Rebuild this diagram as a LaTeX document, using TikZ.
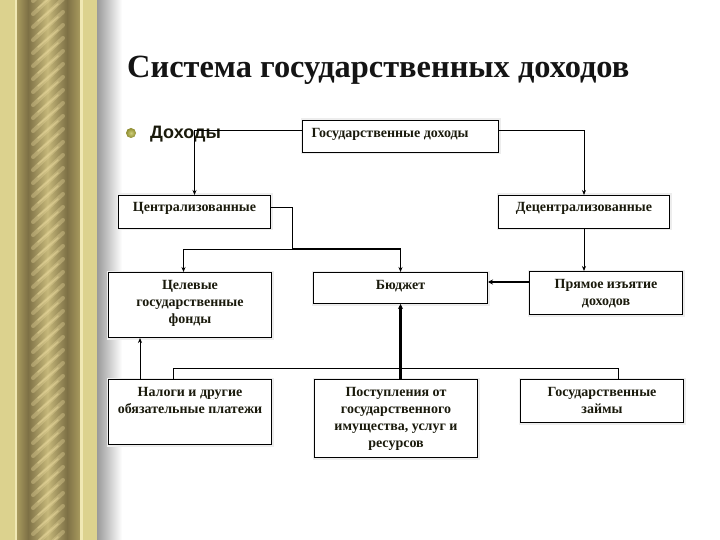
\documentclass[tikz,border=0pt]{standalone}
\usepackage{fontspec}
\setmainfont{Liberation Serif}
\newfontfamily\arialfont{Liberation Sans}
\usetikzlibrary{arrows.meta,calc}
\definecolor{khaki}{HTML}{DCD28E}
\definecolor{khakilt}{HTML}{F0E8B4}
\definecolor{olivedk}{HTML}{7D7045}
\definecolor{olivemd}{HTML}{A89A5E}
\definecolor{olivelt}{HTML}{C6B87A}
\definecolor{streak}{HTML}{EADA9E}
\definecolor{shadowgray}{HTML}{9A9A9A}
\definecolor{txt}{HTML}{1A1A0C}
\definecolor{bulletin}{HTML}{CFCF7A}
\definecolor{bulletout}{HTML}{8E8C30}
\newcommand\boxfont{\fontsize{14}{17}\selectfont\bfseries\color{txt}}
\newcommand\mkbox[6]{\node[box] (#1) at (#2,#3) {\parbox[c][#5pt][t]{#4pt}{\centering\rule{0pt}{16.5pt}#6}};}
\begin{document}
\begin{tikzpicture}[x=1pt,y=-1pt,
  box/.style={draw=black, line width=1pt, inner sep=0pt, anchor=north west, fill=white,
    font=\boxfont, preaction={draw=black!7, line width=4pt}},
  conn/.style={line width=0.8pt, draw=black},
  arr/.style={conn, -{Stealth[length=5pt,width=4pt]}},
  tarr/.style={line width=2.2pt, draw=black, -{Stealth[length=5pt,width=5pt]}}]
\useasboundingbox (0,0) rectangle (720,540);
\fill[white] (0,0) rectangle (720,540);
% decorative left border
\fill[khaki] (0,0) rectangle (15,540);
\fill[khakilt] (15,0) rectangle (17,540);
\shade[left color=olivemd, right color=olivedk] (17,0) rectangle (28,540);
\begin{scope}
  \clip (28,0) rectangle (67,540);
  \shade[left color=olivedk, right color=olivedk, middle color=olivelt] (28,0) rectangle (67,540);
  \foreach \y in {-40,-27,...,600} {
    \draw[line width=4pt, streak, opacity=0.35, line cap=round] (33,\y+28) -- (63,\y);
    \draw[line width=1.5pt, streak, opacity=0.45, line cap=round] (38,\y+22) -- (58,\y+5);
  }
\end{scope}
\shade[left color=olivedk, right color=olivemd] (67,0) rectangle (80,540);
\fill[khakilt] (80,0) rectangle (83,540);
\fill[khaki] (83,0) rectangle (97,540);
\shade[left color=shadowgray, right color=white] (97,0) rectangle (122,540);
% title and bullet
\node[anchor=base west, inner sep=0pt, font=\fontsize{32.4}{36}\selectfont\bfseries, text=black!92] (title) at (127,78) {Система государственных доходов};
\shade[inner color=bulletin, outer color=bulletout] (131,133) circle (5);
\node[anchor=base west, inner sep=0pt, font=\arialfont\fontsize{18}{20}\selectfont\bfseries, text=txt] (doh) at (150,139) {Доходы};
% boxes
\node[box] (gov) at (302,120) {\parbox[c][32pt][t]{196pt}{\hspace*{9pt}\rule{0pt}{17pt}Государственные доходы\hfill}};
\mkbox{cen}{118}{195}{152}{33}{Централизованные}
\mkbox{dec}{498}{195}{171}{33}{Децентрализованные}
\mkbox{cel}{108}{272}{163}{65}{Целевые\\государственные\\фонды}
\mkbox{bud}{313}{272}{174}{31}{Бюджет}
\mkbox{pry}{529}{271}{153}{43}{Прямое изъятие\\доходов}
\mkbox{nal}{108}{379}{163}{65}{Налоги и другие\\обязательные платежи}
\mkbox{pos}{314}{379}{163}{78}{Поступления от\\государственного\\имущества, услуг и\\ресурсов}
\mkbox{zai}{520}{379}{163}{43}{Государственные\\займы}
% connectors
\coordinate (j1) at (292,249);
\coordinate (h1) at (173,368);
\coordinate (h2) at (618,368);
\draw[arr] ([yshift=-10pt]gov.north west) -| (cen.north);
\draw[arr] ([yshift=-10pt]gov.north east) -| (dec.north);
\draw[conn] ([yshift=-12pt]cen.north east) -| (j1);
\draw[arr] (j1) -| ([xshift=-6.5pt]cel.north);
\draw[arr, line width=1.4pt] (j1) -| (bud.north);
\draw[arr] (dec.south) -- (dec.south |- pry.north);
\draw[tarr] ([yshift=-11pt]pry.north west) -- ([yshift=-11pt]pry.north west -| bud.east);
\draw[tarr] (bud.south |- pos.north) -- (bud.south);
\draw[conn] (nal.north -| h1) -- (h1) -- (h2) -- (zai.north -| h2);
\coordinate (a1) at (140,0);
\draw[arr] (nal.north -| a1) -- (cel.south -| a1);
\end{tikzpicture}
\end{document}
